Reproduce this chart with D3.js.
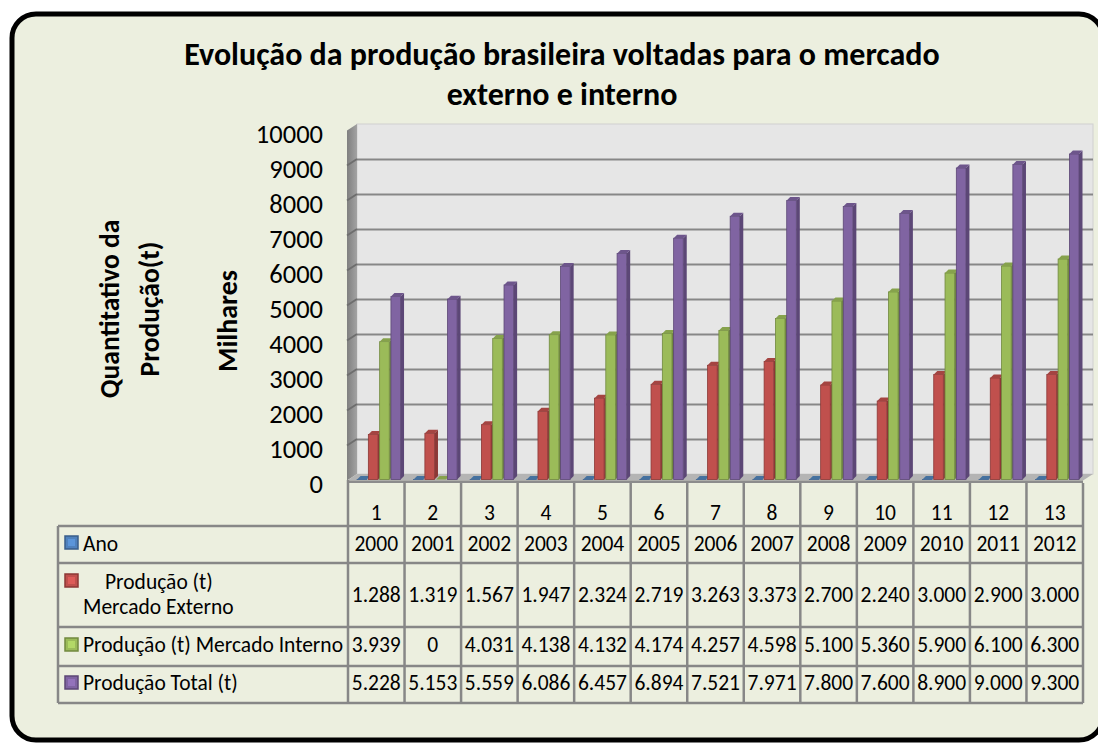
<!DOCTYPE html>
<html lang="pt">
<head>
  <meta charset="UTF-8">
  <title>Evolução da produção brasileira</title>
  <script src="https://d3js.org/d3.v7.min.js"></script>
  <style>
    html, body { margin: 0; padding: 0; background: #fff; }
    svg { display: block; font-family: Carlito, Lato, sans-serif; }
  </style>
</head>
<body>
  <svg id="chart" width="1098" height="744"></svg>
  <script>
    // chart data
    const categories = ["1", "2", "3", "4", "5", "6", "7", "8", "9", "10", "11", "12", "13"];
    const ano = [2000, 2001, 2002, 2003, 2004, 2005, 2006, 2007, 2008, 2009, 2010, 2011, 2012];
    const externo = [1288, 1319, 1567, 1947, 2324, 2719, 3263, 3373, 2700, 2240, 3000, 2900, 3000];
    const interno = [3939, 0, 4031, 4138, 4132, 4174, 4257, 4598, 5100, 5360, 5900, 6100, 6300];
    const total = [5228, 5153, 5559, 6086, 6457, 6894, 7521, 7971, 7800, 7600, 8900, 9000, 9300];
    const yTicks = [0, 1000, 2000, 3000, 4000, 5000, 6000, 7000, 8000, 9000, 10000];

    // "Ano" is plotted in the same display unit (milhares), so it stays flat on the floor
    const series = [
      { key: "ano", values: ano.map(v => v / 1000), table: ano, label: ["Ano"], front: "#4F81BD", side: "#385D8A", top: "#45719F" },
      { key: "ext", values: externo, table: externo, label: ["Produção (t)", "Mercado Externo"], front: "#C0504D", side: "#8C3836", top: "#A44441" },
      { key: "int", values: interno, table: interno, label: ["Produção (t) Mercado Interno"], front: "#9BBB59", side: "#71893F", top: "#86A24C" },
      { key: "tot", values: total, table: total, label: ["Produção Total (t)"], front: "#8064A2", side: "#5C4776", top: "#6D558B" }
    ];

    const pt = d3.formatLocale({ decimal: ",", thousands: ".", grouping: [3], currency: ["R$", ""] });
    const fmt = pt.format(",");

    const svg = d3.select("#chart");
    const tableFont = 21.5;

    // frame
    svg.append("rect")
      .attr("x", 12).attr("y", 14)
      .attr("width", 1091).attr("height", 726)
      .attr("rx", 24).attr("ry", 24)
      .attr("fill", "#ECEFDF")
      .attr("stroke", "#000").attr("stroke-width", 5);

    // title
    const title = svg.append("text")
      .attr("text-anchor", "middle")
      .attr("font-weight", "bold")
      .attr("font-size", 32)
      .attr("fill", "#000");
    title.append("tspan").attr("x", 562).attr("y", 65).text("Evolução da produção brasileira voltadas para o mercado");
    title.append("tspan").attr("x", 562).attr("y", 105).text("externo e interno");

    // 3d geometry
    const wallL = 357, wallR = 1093, depthX = 10, depthY = 6.5;
    const yBack = d3.scaleLinear().domain([0, 10000]).range([474, 124]);
    const yFront = d3.scaleLinear().domain([0, 10000]).range([479.5, 129.5]);

    const x = d3.scaleBand().domain(categories).range([348, 1083]);
    const xs = d3.scaleBand().domain(series.map(s => s.key))
      .range([x.bandwidth() * 0.16, x.bandwidth() * 0.16 + 43.5]).paddingInner(0.15);

    // back wall
    svg.append("rect")
      .attr("x", wallL).attr("y", yBack(10000))
      .attr("width", wallR - wallL).attr("height", yBack(0) - yBack(10000))
      .attr("fill", "#E6E6E6")
      .attr("stroke", "#D0D0D0").attr("stroke-width", 1);

    // side wall
    const defs = svg.append("defs");
    const sideGrad = defs.append("linearGradient").attr("id", "sideGrad").attr("x1", 0).attr("x2", 1).attr("y1", 0).attr("y2", 0);
    sideGrad.append("stop").attr("offset", 0).attr("stop-color", "#7F7F7F");
    sideGrad.append("stop").attr("offset", 1).attr("stop-color", "#A3A3A3");

    svg.append("polygon")
      .attr("points", [[wallL - depthX, yBack(10000) + depthY], [wallL, yBack(10000)], [wallL, yBack(0)], [wallL - depthX, yBack(0) + depthY]].join(" "))
      .attr("fill", "url(#sideGrad)");

    // gridlines on back wall
    svg.append("g")
      .attr("transform", `translate(${wallL},0)`)
      .call(d3.axisLeft(yBack).tickValues(yTicks.slice(1, -1)).tickSize(-(wallR - wallL)).tickFormat(""))
      .call(g => g.select(".domain").remove())
      .call(g => g.selectAll("line").attr("stroke", "#878787").attr("stroke-width", 2));

    // gridlines on side wall
    svg.append("g").selectAll("line")
      .data(yTicks.slice(1, -1))
      .join("line")
      .attr("x1", wallL - depthX).attr("y1", d => yBack(d) + depthY)
      .attr("x2", wallL).attr("y2", d => yBack(d))
      .attr("stroke", "#6E6E6E").attr("stroke-width", 2);

    // floor
    svg.append("polygon")
      .attr("points", [[wallL - depthX, yBack(0) + depthY], [wallL, yBack(0)], [wallR, yBack(0)], [wallR - depthX, yBack(0) + depthY]].join(" "))
      .attr("fill", "#B4B4B4");
    svg.append("rect")
      .attr("x", wallL - depthX).attr("y", yBack(0) + depthY)
      .attr("width", wallR - wallL).attr("height", 2.5)
      .attr("fill", "#8C8C8C");

    // y axis labels
    svg.append("g")
      .attr("transform", "translate(323,0)")
      .call(d3.axisLeft(yFront).tickValues(yTicks).tickSize(0).tickPadding(0).tickFormat(d3.format("d")))
      .call(g => g.select(".domain").remove())
      .call(g => g.selectAll("text")
        .attr("font-family", "Carlito, Lato, sans-serif")
        .attr("font-size", 26.5)
        .attr("fill", "#000")
        .attr("dy", "0.5em"));

    // axis titles
    const yTitle = svg.append("text")
      .attr("transform", "translate(119,309) rotate(-90)")
      .attr("text-anchor", "middle")
      .attr("font-weight", "bold")
      .attr("font-size", 27.5);
    yTitle.append("tspan").attr("x", 0).attr("y", 0).text("Quantitativo da");
    yTitle.append("tspan").attr("x", 0).attr("y", 40).text("Produção(t)");

    svg.append("text")
      .attr("transform", "translate(237,321) rotate(-90)")
      .attr("text-anchor", "middle")
      .attr("font-weight", "bold")
      .attr("font-size", 28)
      .text("Milhares");

    // bars
    const dx = 3.5, dy = 3.5;
    const bars = [];
    categories.forEach((c, i) => {
      series.forEach(s => {
        bars.push({ c, s, v: s.values[i] });
      });
    });

    const barG = svg.append("g")
      .selectAll("g")
      .data(bars)
      .join("g")
      .attr("transform", d => `translate(${x(d.c) + xs(d.s.key)},0)`);

    const w = xs.bandwidth();
    barG.each(function(d) {
      const g = d3.select(this);
      const top = yFront(d.v), base = yFront(0);
      g.append("polygon")
        .attr("points", [[w, top], [w + dx, top - dy], [w + dx, base - dy], [w, base]].join(" "))
        .attr("fill", d.s.side);
      g.append("rect")
        .attr("x", 0).attr("y", top)
        .attr("width", w).attr("height", base - top)
        .attr("fill", d.s.front)
        .attr("stroke", d.s.side).attr("stroke-width", 0.8);
      g.append("polygon")
        .attr("points", [[0, top], [dx, top - dy], [w + dx, top - dy], [w, top]].join(" "))
        .attr("fill", d.s.top);
    });

    // data table
    const tableL = 58, tableR = x.range()[1];
    const rowY = [483, 526, 563, 627, 666, 703];
    const lineColor = "#878787";
    const tg = svg.append("g");

    // horizontal rules
    tg.selectAll("line.h")
      .data(rowY.slice(1))
      .join("line")
      .attr("x1", tableL).attr("x2", tableR)
      .attr("y1", d => d).attr("y2", d => d)
      .attr("stroke", lineColor).attr("stroke-width", 2.5);

    // vertical rules
    tg.append("line")
      .attr("x1", tableL).attr("x2", tableL)
      .attr("y1", rowY[1]).attr("y2", rowY[5])
      .attr("stroke", lineColor).attr("stroke-width", 2.5);
    tg.selectAll("line.v")
      .data(categories.map(c => x(c)).concat([tableR]))
      .join("line")
      .attr("x1", d => d).attr("x2", d => d)
      .attr("y1", (d, i) => i === 0 ? 480 : rowY[0]).attr("y2", rowY[5])
      .attr("stroke", lineColor).attr("stroke-width", 2.5);

    // category labels
    tg.append("g").selectAll("text")
      .data(categories)
      .join("text")
      .attr("x", d => x(d) + x.bandwidth() / 2)
      .attr("y", 520)
      .attr("text-anchor", "middle")
      .attr("font-size", tableFont)
      .text(d => d);

    const rowBase = [551, 602, 652, 690];
    const keyY = [536, 574, 638, 676];

    // legend keys and labels
    series.forEach((s, r) => {
      const k = tg.append("g").attr("transform", `translate(65,${keyY[r]})`);
      k.append("rect").attr("width", 13).attr("height", 13)
        .attr("fill", s.front).attr("stroke", s.side).attr("stroke-width", 1.5);
      k.append("rect").attr("x", 3).attr("y", 3).attr("width", 7).attr("height", 7)
        .attr("fill", d3.color(s.front).brighter(0.4));

      if (s.label.length === 1) {
        tg.append("text").attr("x", 83).attr("y", rowBase[r])
          .attr("font-size", tableFont).text(s.label[0]);
      } else {
        tg.append("text").attr("x", 105).attr("y", 589)
          .attr("font-size", tableFont).text(s.label[0]);
        tg.append("text").attr("x", 83).attr("y", 614)
          .attr("font-size", tableFont).text(s.label[1]);
      }

      tg.append("g").selectAll("text")
        .data(s.table)
        .join("text")
        .attr("x", (d, i) => x(categories[i]) + x.bandwidth() / 2)
        .attr("y", rowBase[r])
        .attr("text-anchor", "middle")
        .attr("font-size", tableFont)
        .text(d => s.key === "ano" ? d : fmt(d));
    });
  </script>
</body>
</html>
